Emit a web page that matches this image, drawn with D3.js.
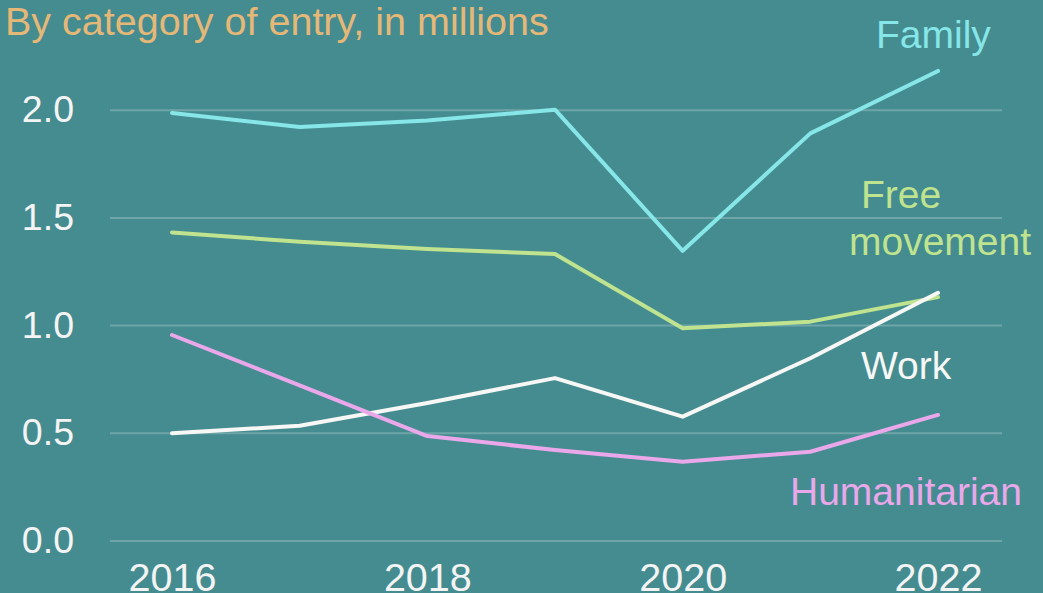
<!DOCTYPE html>
<html>
<head>
<meta charset="utf-8">
<script src="https://cdn.jsdelivr.net/npm/d3@7"></script>
<style>
  html, body { margin: 0; padding: 0; background: #458c90; }
  svg { display: block; font-family: "Liberation Sans", Arial, Helvetica, sans-serif; }
</style>
</head>
<body>
<div id="chart"></div>
<script>
// data (millions)
const years = [2016, 2017, 2018, 2019, 2020, 2021, 2022];
const family = [1.985, 1.92, 1.95, 2.0, 1.345, 1.89, 2.18];
const freeMovement = [1.43, 1.387, 1.353, 1.33, 0.985, 1.016, 1.13];
const work = [0.498, 0.533, 0.638, 0.754, 0.575, 0.846, 1.15];
const humanitarian = [0.954, 0.72, 0.485, 0.42, 0.366, 0.412, 0.583];
const yTicks = [0, 0.5, 1.0, 1.5, 2.0];
const xTicks = [2016, 2018, 2020, 2022];

const series = [
    { name: ["Family"], values: family, color: "#86e6e8", lx: 876, ly: 48 },
    { name: ["Free", "movement"], values: freeMovement, color: "#bfe38e", lx: [861, 849], ly: 208 },
    { name: ["Work"], values: work, color: "#f7f7f5", lx: 861, ly: 379 },
    { name: ["Humanitarian"], values: humanitarian, color: "#eaa8ea", lx: 790, ly: 505 }
];

const width = 1043, height = 593;

const svg = d3.select("#chart")
    .append("svg")
    .attr("width", width)
    .attr("height", height);

svg.append("rect")
    .attr("width", width)
    .attr("height", height)
    .attr("fill", "#458c90");

const x = d3.scaleLinear().domain([2016, 2022]).range([172, 938]);
const y = d3.scaleLinear().domain([0, 2]).range([540.5, 109.7]);

// title
svg.append("text")
    .attr("x", 5)
    .attr("y", 35)
    .attr("fill", "#e6b877")
    .style("font-size", "39.5px")
    .text("By category of entry, in millions");

// y axis with gridlines
const yAxis = svg.append("g")
    .attr("transform", "translate(110,0)")
    .call(d3.axisLeft(y)
        .tickValues(yTicks)
        .tickFormat(d3.format(".1f"))
        .tickSize(-(1002 - 110))
        .tickPadding(36));

yAxis.select(".domain").remove();
yAxis.selectAll("line")
    .attr("stroke", "#ffffff")
    .attr("stroke-opacity", 0.22)
    .attr("stroke-width", 2);
yAxis.selectAll("text")
    .attr("fill", "#f4f4f4")
    .style("font-size", "37.5px");

// x axis
const xAxis = svg.append("g")
    .attr("transform", "translate(0,554)")
    .call(d3.axisBottom(x)
        .tickValues(xTicks)
        .tickFormat(d3.format("d"))
        .tickSize(0)
        .tickPadding(9));

xAxis.select(".domain").remove();
xAxis.selectAll("text")
    .attr("fill", "#f4f4f4")
    .style("font-size", "39.5px");

// lines
const line = d3.line()
    .x((d, i) => x(years[i]))
    .y(d => y(d));

svg.selectAll(".series")
    .data(series)
    .enter().append("path")
    .attr("class", "series")
    .attr("d", d => line(d.values))
    .attr("fill", "none")
    .attr("stroke", d => d.color)
    .attr("stroke-width", 4)
    .attr("stroke-linejoin", "round")
    .attr("stroke-linecap", "round");

// direct labels
series.forEach(s => {
    s.name.forEach((part, i) => {
        svg.append("text")
            .attr("x", Array.isArray(s.lx) ? s.lx[i] : s.lx)
            .attr("y", s.ly + i * 47)
            .attr("fill", s.color)
            .style("font-size", "39px")
            .text(part);
    });
});
</script>
</body>
</html>
